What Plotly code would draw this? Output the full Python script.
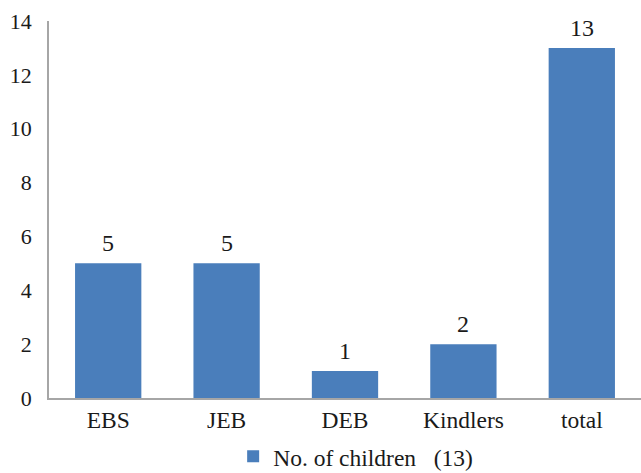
import plotly.graph_objects as go

categories = ["EBS", "JEB", "DEB", "Kindlers", "total"]
values = [5, 5, 1, 2, 13]
series_name = "No. of children\u00a0\u00a0\u00a0(13)"
y_ticks = [0, 2, 4, 6, 8, 10, 12, 14]

FONT = "Liberation Serif"
TXT = "#1a1a1a"

fig = go.Figure()
fig.add_trace(go.Bar(
    x=categories, y=values, name=series_name,
    marker=dict(color="#4a7ebb", line=dict(width=0)),
))
for c, v in zip(categories, values):
    fig.add_annotation(x=c, y=v, text=str(v), showarrow=False, yanchor="bottom",
                       yshift=5, font=dict(family=FONT, size=24, color=TXT))

fig.update_layout(
    width=641, height=473,
    margin=dict(l=49, r=0, t=21, b=75, autoexpand=False),
    paper_bgcolor="white", plot_bgcolor="white",
    bargap=0.44,
    font=dict(family=FONT, size=23, color=TXT),
    showlegend=True,
    legend=dict(orientation="h", x=0.518, xanchor="center", y=-0.097, yanchor="top",
                font=dict(family=FONT, size=23.5, color=TXT)),
    xaxis=dict(showline=True, linecolor="#a6a6a6", linewidth=1.5, ticks="",
               showgrid=False, tickfont=dict(family=FONT, size=23.5, color=TXT),
               ticklabelstandoff=0),
    yaxis=dict(range=[0, 14], tickvals=y_ticks, showline=True, linecolor="#a6a6a6",
               linewidth=1.5, showgrid=False, zeroline=False, ticks="",
               tickfont=dict(family=FONT, size=22, color=TXT), ticklabelstandoff=11),
)

fig.write_html("out.html")
